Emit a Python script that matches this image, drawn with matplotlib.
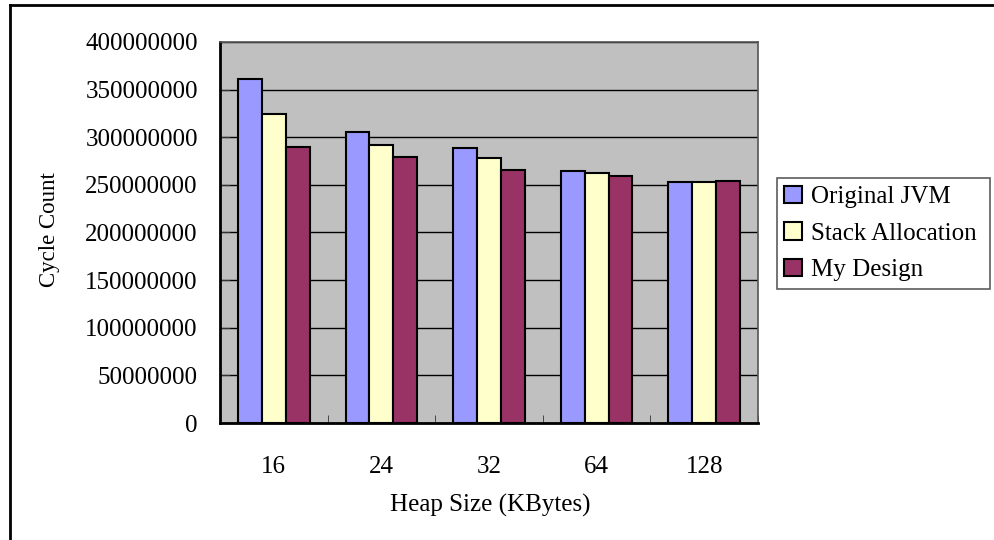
import numpy as np
import matplotlib
matplotlib.use('Agg')
import matplotlib.pyplot as plt
from matplotlib.lines import Line2D

# data
heap_sizes = ['16', '24', '32', '64', '128']
original_jvm = [361000000, 305500000, 288500000, 264500000, 253500000]
stack_alloc = [324500000, 291500000, 278500000, 262000000, 253500000]
my_design = [290000000, 279000000, 266000000, 259500000, 254500000]
series_names = ['Original JVM', 'Stack Allocation', 'My Design']
colors = ['#9999FF', '#FFFFCC', '#993366']

plt.rcParams['font.family'] = ['Liberation Serif', 'DejaVu Serif']

fig = plt.figure(figsize=(9.95, 5.4), dpi=100)
ax = fig.add_axes([220/995, 1-423/540, (758-220)/995, (423-42)/540])
ax.set_facecolor('#C0C0C0')

x = np.arange(len(heap_sizes))
w = 0.222
for i, (vals, name, c) in enumerate(zip([original_jvm, stack_alloc, my_design], series_names, colors)):
    ax.bar(x + (i-1)*w, vals, w, color=c, edgecolor='black', linewidth=1.5, label=name, zorder=3)

ax.set_xlim(-0.5, len(heap_sizes)-0.5)
ax.set_ylim(0, 400000000)
ax.set_yticks(np.arange(0, 400000001, 50000000))
ax.set_yticklabels([str(v) for v in range(0, 400000001, 50000000)])
ax.yaxis.grid(True, color='black', linewidth=1.0, zorder=1)
ax.set_axisbelow(True)

ax.set_xticks(x)
ax.set_xticklabels(heap_sizes)
ax.set_xticks(np.arange(-0.5, len(heap_sizes)), minor=True)
ax.tick_params(axis='x', which='major', length=0, pad=24, labelsize=18)
ax.tick_params(axis='x', which='minor', direction='in', length=6, color='#333333')
ax.tick_params(axis='y', direction='in', length=7, pad=16, labelsize=18, color='#333333')

for s in ['top', 'right']:
    ax.spines[s].set_color('#555555')
    ax.spines[s].set_linewidth(1.2)
for s in ['left', 'bottom']:
    ax.spines[s].set_color('black')
    ax.spines[s].set_linewidth(2)

fig.text(50/995, 1-230/540, 'Cycle Count', rotation=90, ha='center', va='center', fontsize=16.5)
fig.text(490/995, 1-505/540, 'Heap Size (KBytes)', ha='center', va='center', fontsize=18)

leg = ax.legend(loc='center left', bbox_to_anchor=(777/995, 1-290/540, (990-777)/995, (290-177)/540),
                bbox_transform=fig.transFigure, mode='expand', fontsize=18, frameon=True, fancybox=False,
                handlelength=0.7, handleheight=0.7, handletextpad=0.35, borderaxespad=0,
                labelspacing=0.56, borderpad=0.3)
leg.get_frame().set_edgecolor('#333333')
leg.get_frame().set_linewidth(1.2)

# outer chart border (top and left visible)
fig.add_artist(Line2D([10/995, 1], [1-5/540, 1-5/540], transform=fig.transFigure, color='black', lw=2))
fig.add_artist(Line2D([10/995, 10/995], [0, 1-5/540], transform=fig.transFigure, color='black', lw=2))

fig.savefig('out.png', dpi=100)
